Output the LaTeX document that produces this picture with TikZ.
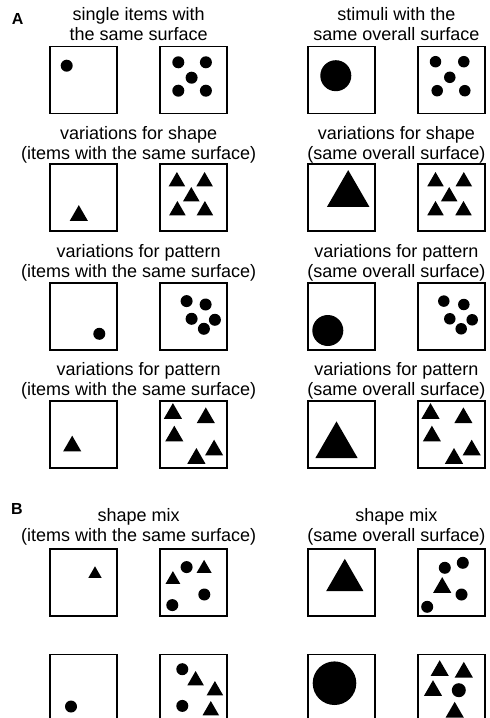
\documentclass[tikz,border=0pt]{standalone}
\usepackage{fontspec}
\setmainfont{Liberation Sans}
\usetikzlibrary{shapes.geometric, positioning, calc}

\begin{document}
\begin{tikzpicture}[
    x=1pt, y=-1pt,
    every node/.style={font=\fontsize{18}{20}\selectfont},
    box/.style={
        rectangle,
        draw,
        line width=1.9pt,
        minimum width=67pt,
        minimum height=67pt,
        inner sep=0pt
    },
    rowtitle/.style={align=center, anchor=base, inner sep=0pt},
    panel/.style={font=\fontsize{16}{18}\selectfont\bfseries, anchor=base west, inner sep=0pt},
    blob/.style={circle, fill, inner sep=0pt, minimum size=#1},
    tri/.style={regular polygon, regular polygon sides=3, fill, inner sep=0pt, minimum size=#1}
]
\useasboundingbox (0,0) rectangle (490,718);

% boxes
\node (b11) [box] at (83.5,80) {};
\node (b12) [box, right=41.5pt of b11] {};
\node (b13) [box, right=78.5pt of b12] {};
\node (b14) [box, right=41.3pt of b13] {};

\node (b21) [box, below=49pt of b11] {};
\node (b22) [box, below=49pt of b12] {};
\node (b23) [box, below=49pt of b13] {};
\node (b24) [box, below=49pt of b14] {};

\node (b31) [box, below=49.5pt of b21] {};
\node (b32) [box, below=49.5pt of b22] {};
\node (b33) [box, below=49.5pt of b23] {};
\node (b34) [box, below=49.5pt of b24] {};

\node (b41) [box, below=49pt of b31] {};
\node (b42) [box, below=49pt of b32] {};
\node (b43) [box, below=49pt of b33] {};
\node (b44) [box, below=49pt of b34] {};

\node (b51) [box, below=79.5pt of b41] {};
\node (b52) [box, below=79.5pt of b42] {};
\node (b53) [box, below=79.5pt of b43] {};
\node (b54) [box, below=79.5pt of b44] {};

\node (b61) [box, below=36.5pt of b51] {};
\node (b62) [box, below=36.5pt of b52] {};
\node (b63) [box, below=36.5pt of b53] {};
\node (b64) [box, below=36.5pt of b54] {};

% titles
\node (pa) [panel] at (11.8,24.5) {A};
\node (pb) [panel] at (10.8,514) {B};

\node (t1l) [rowtitle] at ($(b11.north west)!0.5!(b12.north east)+(0,-5.5)$) {single items with\\the same surface};
\node (t1r) [rowtitle] at ($(b13.north west)!0.5!(b14.north east)+(0,-5.5)$) {stimuli with the\\same overall surface};
\node (t2l) [rowtitle] at ($(b21.north west)!0.5!(b22.north east)+(0,-4)$) {variations for shape\\(items with the same surface)};
\node (t2r) [rowtitle] at ($(b23.north west)!0.5!(b24.north east)+(0,-4)$) {variations for shape\\(same overall surface)};
\node (t3l) [rowtitle] at ($(b31.north west)!0.5!(b32.north east)+(0,-4)$) {variations for pattern\\(items with the same surface)};
\node (t3r) [rowtitle] at ($(b33.north west)!0.5!(b34.north east)+(0,-4)$) {variations for pattern\\(same overall surface)};
\node (t4l) [rowtitle] at ($(b41.north west)!0.5!(b42.north east)+(0,-4)$) {variations for pattern\\(items with the same surface)};
\node (t4r) [rowtitle] at ($(b43.north west)!0.5!(b44.north east)+(0,-4)$) {variations for pattern\\(same overall surface)};
\node (t5l) [rowtitle] at ($(b51.north west)!0.5!(b52.north east)+(0,-6.5)$) {shape mix\\(items with the same surface)};
\node (t5r) [rowtitle] at ($(b53.north west)!0.5!(b54.north east)+(0,-6.5)$) {shape mix\\(same overall surface)};

% row 1: dots
\node (b11d1) [blob=12pt] at ($(b11)+(-16.8,-14.3)$) {};
\foreach \dx/\dy [count=\i] in {-15.6/-17.7, 12/-17.7, -2.3/-2.3, -15.6/10.7, 12/10.7}
    \node (b12d\i) [blob=12pt] at ($(b12)+(\dx,\dy)$) {};
\node (b13d1) [blob=31pt] at ($(b13)+(-5.5,-4.3)$) {};
\foreach \dx/\dy [count=\i] in {-16/-18.3, 12.3/-18.3, -1.7/-2.7, -14.3/10.7, 13.3/10.7}
    \node (b14d\i) [blob=11.5pt] at ($(b14)+(\dx,\dy)$) {};

% row 2: triangles
\node (b21t1) [tri=21pt] at ($(b21)+(-4.7,17.75)$) {};
\foreach \dx/\dy [count=\i] in {-17/-16.4, 10.7/-16.4, -2.6/-1.4, -16.5/12.6, 11/12.6}
    \node (b22t\i) [tri=19pt] at ($(b22)+(\dx,\dy)$) {};
\node (b23t1) [tri=49pt] at ($(b23)+(6.9,-3.3)$) {};
\foreach \dx/\dy [count=\i] in {-16/-16.4, 12.3/-16.4, -2.3/-1.4, -16/12.6, 12/12.6}
    \node (b24t\i) [tri=19pt] at ($(b24)+(\dx,\dy)$) {};

% row 3: dots, other pattern
\node (b31d1) [blob=12pt] at ($(b31)+(15.8,17.5)$) {};
\foreach \dx/\dy [count=\i] in {-7.3/-15.2, 11.7/-11.8, -2.3/2.5, 21/3.5, 10/12.5}
    \node (b32d\i) [blob=12pt] at ($(b32)+(\dx,\dy)$) {};
\node (b33d1) [blob=31pt] at ($(b33)+(-13.5,14.2)$) {};
\foreach \dx/\dy [count=\i] in {-7.7/-15.2, 12.3/-11.8, -1.7/2.5, 20.7/3.5, 9.7/12.5}
    \node (b34d\i) [blob=11.5pt] at ($(b34)+(\dx,\dy)$) {};

% row 4: triangles, other pattern
\node (b41t1) [tri=21pt] at ($(b41)+(-11.3,12)$) {};
\foreach \dx/\dy [count=\i] in {-21/-20.6, 11.9/-16.3, -19.6/2, 20.2/16, 2.5/24.3}
    \node (b42t\i) [tri=21pt] at ($(b42)+(\dx,\dy)$) {};
\node (b43t1) [tri=49pt] at ($(b43)+(-4.8,11.7)$) {};
\foreach \dx/\dy [count=\i] in {-21/-20.6, 11.9/-16.3, -19.6/2, 20.2/16, 2.5/24.3}
    \node (b44t\i) [tri=21pt] at ($(b44)+(\dx,\dy)$) {};

% B, row 1
\node (b51t1) [tri=15.4pt] at ($(b51)+(11.5,-8.6)$) {};
\node (b52d1) [blob=12pt] at ($(b52)+(-7.3,-15.5)$) {};
\node (b52t1) [tri=17.3pt] at ($(b52)+(10.2,-14.1)$) {};
\node (b52t2) [tri=17pt] at ($(b52)+(-21,-3)$) {};
\node (b52d2) [blob=12pt] at ($(b52)+(10.4,11.9)$) {};
\node (b52d3) [blob=12pt] at ($(b52)+(-21.6,22.5)$) {};
\node (b53t1) [tri=43pt] at ($(b53)+(3.5,-2.3)$) {};
\node (b54d1) [blob=12pt] at ($(b54)+(-6.7,-14.8)$) {};
\node (b54d2) [blob=12pt] at ($(b54)+(11.3,-19.8)$) {};
\node (b54t1) [tri=21pt] at ($(b54)+(-9.3,5)$) {};
\node (b54d3) [blob=12pt] at ($(b54)+(10,11.9)$) {};
\node (b54d4) [blob=12pt] at ($(b54)+(-24.3,24.2)$) {};

% B, row 2
\node (b61d1) [blob=12pt] at ($(b61)+(-12.5,18.5)$) {};
\node (b62d1) [blob=12pt] at ($(b62)+(-11.6,-18.8)$) {};
\node (b62t1) [tri=19pt] at ($(b62)+(1.7,-7.5)$) {};
\node (b62t2) [tri=19pt] at ($(b62)+(21,2.5)$) {};
\node (b62d2) [blob=12pt] at ($(b62)+(-11.6,17.9)$) {};
\node (b62t3) [tri=19pt] at ($(b62)+(16.9,22.5)$) {};
\node (b63d1) [blob=43.6pt] at ($(b63)+(-6.8,-4.8)$) {};
\node (b64t1) [tri=21pt] at ($(b64)+(-11.8,-17.3)$) {};
\node (b64t2) [tri=21pt] at ($(b64)+(12.3,-15.7)$) {};
\node (b64t3) [tri=21pt] at ($(b64)+(-18.5,2.7)$) {};
\node (b64d1) [blob=14pt] at ($(b64)+(7.3,2.2)$) {};
\node (b64t4) [tri=21pt] at ($(b64)+(3.2,24.3)$) {};

\end{tikzpicture}
\end{document}
